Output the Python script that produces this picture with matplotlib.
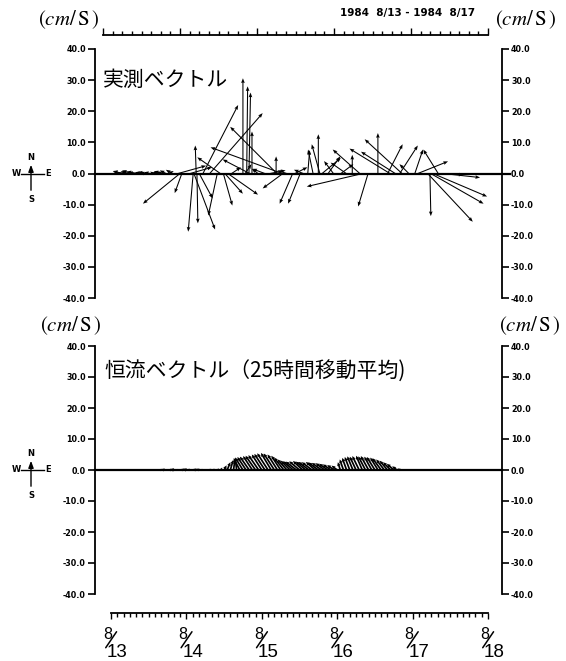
import numpy as np
import matplotlib
matplotlib.use("Agg")
from matplotlib import pyplot as plt
from matplotlib.ticker import MultipleLocator, FormatStrFormatter
from matplotlib.transforms import blended_transform_factory, offset_copy

plt.rcParams['font.family'] = ['Noto Sans CJK JP', 'DejaVu Sans']
plt.rcParams['mathtext.fontset'] = 'stix'

# observed current vectors: time (days from 8/13 00:00), east / north (cm/s)
obs_t = [0.15, 0.19, 0.23, 0.27, 0.31, 0.35, 0.40, 0.44, 0.48, 0.52, 0.56, 0.60,
         0.65, 0.69, 0.73, 0.77, 0.81, 0.89, 0.915, 0.94, 1.05, 1.09, 1.10, 1.13,
         1.14, 1.17, 1.22, 1.31, 1.41, 1.45, 1.49, 1.51, 1.55, 1.60, 1.75, 1.78,
         1.80, 1.83, 1.84, 1.87, 1.95, 2.04, 2.11, 2.19, 2.20, 2.27, 2.28, 2.33,
         2.41, 2.44, 2.51, 2.55, 2.61, 2.68, 2.75, 2.77, 2.80, 2.88, 2.95, 3.05,
         3.12, 3.20, 3.30, 3.34, 3.41, 3.54, 3.67, 3.70, 3.77, 3.83, 3.86, 3.95,
         4.03, 4.07, 4.20, 4.23, 4.24, 4.27, 4.34, 4.40, 4.47]
obs_u = [-3, -4, -2.5, -3, -2, -3.5, -2, -1.5, -3, -2, -1, 2,
         -2.5, -3, -2, 1.5, -2, 9, -11.9, -2.3, 7, -1.6, 6.8, -0.3,
         0.3, 4.3, 11.3, 17, -2.9, -7.4, 2.9, 5.8, 9.7, 3, 0, 2,
         0.3, 0.5, -8.7, 0, -2, -4, 5, 0, -15, -23, -6.5, -3,
         -4.2, 4, -3.9, -3, 0.6, -1.6, 0, -2.6, 6, 3.9, -3, 4,
         -5, 0, -8.7, -18, -3.2, 0, 4.8, -13, -11, 5.8, -12, -3,
         2.6, 9.7, 14.5, 0.3, 17, 17.4, -4.8, 12, 5]
obs_v = [0.8, 0.6, 0.7, 1.0, 0.5, 0.6, 0.4, 0.3, 0.5, 0.4, 0.6, 0.5,
         0.3, 0.7, 1.0, 0.8, 1.2, 2.5, -9.7, -6.3, 2, -18.7, -18, 9,
         -16, -8, 22, 19.4, -13.5, 5.2, -10.3, -6.5, -6.8, 2, 30.6, 3,
         28, 26, 4.5, 13.5, 1.5, 1.5, 1, 5.5, 15, 8.4, -4.8, 1,
         -9.7, 2, -9.7, 1.2, 7.5, 7.7, 12.6, 9.4, 5, 5.5, 4, 3,
         3.5, 6, 7.7, -4.2, -10.6, 13, 9.4, 8, 7, 9, 11, 3,
         7.7, 3.9, -15.5, -13.7, -9.7, -7.4, 7.7, -1.3, -0.5]

# residual flow (25h running mean), hourly from res_start (hours after 8/13 00:00)
res_start = 16
res_u = [-0.8, -1.0, -0.6, -0.9, -1.2, -0.7, -0.5, -0.9, -1.1, -0.8, -0.6, -1.0,
         -0.9, -0.7, -0.5, -0.4, -0.6, -0.3, 0.2, 0.4,
         0.8, 1.0, 0.9, 0.5, -0.5,
         -2.0, -2.5, -2.8, -3.0, -3.0, -3.2, -3.3, -3.2, -3.4, -3.5, -3.3, -3.4,
         -3.2, -3.0, -3.1, -3.0,
         -3.0, -3.2, -3.4, -3.3, -3.1, -3.2, -3.4, -3.3, -3.0, -3.2, -3.1, -2.9,
         -2.8, -2.6, -2.2, -1.8,
         -0.8, -1.2, -1.4, -1.6, -1.8, -2.0, -2.2, -2.0, -2.3, -2.5, -2.4, -2.6,
         -2.5, -2.8, -2.6, -2.5, -2.4, -2.2,
         -1.5, -0.8, 0.5, 0.6, 0.4]
res_v = [0.2, 0.3, 0.2, 0.1, 0.3, 0.2, 0.2, 0.3, 0.4, 0.3, 0.2, 0.3,
         0.4, 0.3, 0.3, 0.2, 0.4, 0.5, 0.6, 0.8,
         1.5, 2.5, 3.2, 3.6, 4.0,
         3.8, 4.0, 4.2, 4.3, 4.5, 4.6, 4.8, 5.0, 5.2, 5.4, 5.5, 5.3,
         5.0, 4.6, 4.0, 3.4,
         3.0, 2.8, 2.7, 2.8, 2.9, 2.7, 2.6, 2.5, 2.6, 2.4, 2.3, 2.2,
         2.0, 1.8, 1.6, 1.4,
         2.5, 3.4, 3.9, 4.2, 4.4, 4.3, 4.5, 4.6, 4.4, 4.5, 4.3, 4.2,
         4.0, 3.8, 3.4, 3.0, 2.5, 2.0,
         1.2, 0.5, 0.3, 0.2, 0.1]

days = [0, 1, 2, 3, 4, 5]
day_labels = ["13", "14", "15", "16", "17", "18"]
yticks = [-40, -30, -20, -10, 0, 10, 20, 30, 40]

W, H = 566, 661


def frac(x0, y0, x1, y1):
    return [x0 / W, 1 - y1 / H, (x1 - x0) / W, (y1 - y0) / H]


fig = plt.figure(figsize=(W / 100, H / 100), dpi=100)
fig.patch.set_facecolor("white")

tick_font = dict(family="DejaVu Sans", weight="bold", size=5.8)


def panel(rect, ext):
    ax = fig.add_axes(frac(*rect))
    ax.set_xlim(-0.212, 5.186)
    ax.set_ylim(-40, 40)
    for s in ("top", "bottom"):
        ax.spines[s].set_visible(False)
    for s in ("left", "right"):
        ax.spines[s].set_linewidth(1.3)
    ax.set_xticks([])
    ax.set_yticks(yticks)
    ax.yaxis.set_major_formatter(FormatStrFormatter("%.1f"))
    ax.tick_params(axis="y", direction="out", length=5, width=1.2, pad=1.5,
                   left=True, right=True, labelleft=True, labelright=True)
    for lab in ax.get_yticklabels():
        lab.set(**tick_font)
    ax.axhline(0, xmin=0, xmax=ext, color="black", lw=1.6, clip_on=False, zorder=2)
    return ax


ax1 = panel((95, 49, 502, 298), 1.02)
ax2 = panel((95, 346, 502, 594), 1.0)

ax1.quiver(obs_t, np.zeros(len(obs_t)), obs_u, obs_v, angles="uv",
           scale_units="y", scale=1, width=0.0026, headwidth=3.5, headlength=4.5,
           headaxislength=4, color="black", zorder=3)

res_t = [(res_start + i) / 24 for i in range(len(res_u))]
ax2.quiver(res_t, np.zeros(len(res_t)), res_u, res_v, angles="uv",
           scale_units="y", scale=1, width=0.0042, headwidth=2.2, headlength=2.2,
           headaxislength=2.0, color="black", zorder=3)

# time bar at top (ticks pointing up)
bt = fig.add_axes(frac(103, 25, 488, 35))
bt.set_xlim(0, 5)
bt.set_ylim(0, 1)
for s in ("top", "left", "right"):
    bt.spines[s].set_visible(False)
bt.spines["bottom"].set_linewidth(1.3)
bt.set_yticks([])
bt.xaxis.set_major_locator(MultipleLocator(1))
bt.xaxis.set_minor_locator(MultipleLocator(0.125))
bt.tick_params(axis="x", which="both", direction="in", labelbottom=False, width=1.0)
bt.tick_params(axis="x", which="major", length=5)
bt.tick_params(axis="x", which="minor", length=3)
bt.patch.set_alpha(0)

# time bar at bottom (ticks pointing down)
bb = fig.add_axes(frac(111, 613, 488, 620))
bb.set_xlim(0, 5)
bb.set_ylim(0, 1)
for s in ("bottom", "left", "right"):
    bb.spines[s].set_visible(False)
bb.spines["top"].set_linewidth(1.3)
bb.set_yticks([])
bb.xaxis.set_ticks_position("top")
bb.xaxis.set_major_locator(MultipleLocator(1))
bb.xaxis.set_minor_locator(MultipleLocator(1 / 12))
bb.tick_params(axis="x", which="both", direction="in", labeltop=False, width=1.0)
bb.tick_params(axis="x", which="major", length=4)
bb.tick_params(axis="x", which="minor", length=3)
bb.patch.set_alpha(0)

# stacked date labels 8/13 ... 8/18
frac_font = ["Liberation Sans", "DejaVu Sans"]
tr = blended_transform_factory(bb.transData, bb.transAxes)
slash_tr = offset_copy(tr, fig=fig, x=-3.8, y=-25, units="points")
for d, lab in zip(days, day_labels):
    bb.annotate("8", xy=(d, 1), xycoords=tr, xytext=(-2.5, -15.5),
                textcoords="offset points", ha="center", va="center", size=11.5,
                family=frac_font)
    bb.annotate(lab, xy=(d, 1), xycoords=tr, xytext=(4.5, -28.5),
                textcoords="offset points", ha="center", va="center", size=13.5,
                family=frac_font)
    bb.annotate("", xy=(d, 1), xycoords=slash_tr, xytext=(7.8, 11.5),
                textcoords="offset points",
                arrowprops=dict(arrowstyle="-", lw=1.1, color="black",
                                shrinkA=0, shrinkB=0))

# overlay in pixel coordinates for labels
ov = fig.add_axes([0, 0, 1, 1])
ov.set_xlim(0, W)
ov.set_ylim(H, 0)
ov.axis("off")
ov.patch.set_alpha(0)

unit = r"$(\mathit{cm}/\,\mathrm{S}\,)$"
for x, y in [(69, 20), (526, 20), (71, 326), (530, 326)]:
    ov.text(x, y, unit, ha="center", va="center", size=15)

ov.text(408, 13, "1984  8/13 - 1984  8/17", ha="center", va="center",
        family="DejaVu Sans", weight="bold", size=7.5)

ov.text(103, 80, "実測ベクトル", ha="left", va="center", size=15)
ov.text(104, 372, "恒流ベクトル（25時間移動平均)", ha="left", va="center", size=15)

# compass marks
for cy in (174, 470):
    ov.annotate("", xy=(31, cy - 12), xytext=(31, cy + 19),
                arrowprops=dict(arrowstyle="-|>,head_length=0.4,head_width=0.15",
                                color="black", lw=1.0))
    ov.plot([21, 44], [cy, cy], color="black", lw=1.0)
    ov.text(31, cy - 17, "N", ha="center", va="center", family="DejaVu Sans",
            weight="bold", size=6)
    ov.text(31, cy + 25, "S", ha="center", va="center", family="DejaVu Sans",
            weight="bold", size=6)
    ov.text(16, cy, "W", ha="center", va="center", family="DejaVu Sans",
            weight="bold", size=6)
    ov.text(48, cy, "E", ha="center", va="center", family="DejaVu Sans",
            weight="bold", size=6)

fig.savefig("out.png", dpi=100, facecolor="white")
